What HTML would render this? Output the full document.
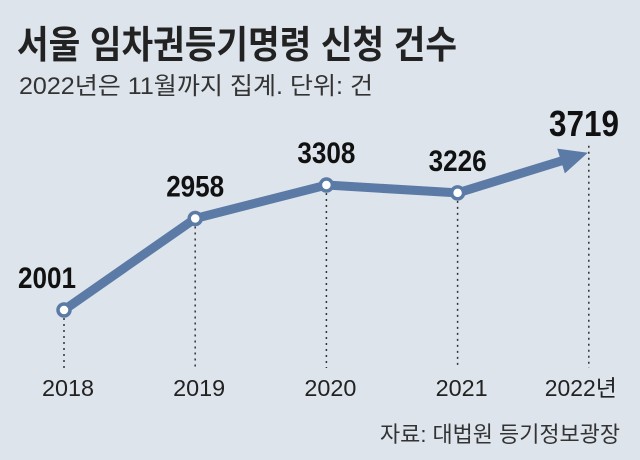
<!DOCTYPE html>
<html><head><meta charset="utf-8"><style>
html,body{margin:0;padding:0;background:#dde4ec;}
svg text{font-family:"Liberation Sans","Noto Sans CJK KR",sans-serif;}
</style></head><body>
<svg width="640" height="455" viewBox="0 0 640 455">
<rect width="640" height="455" fill="#dde4ec"/>
<text x="17" y="58" font-size="38" font-weight="bold" fill="#222" textLength="440" lengthAdjust="spacingAndGlyphs">서울 임차권등기명령 신청 건수</text>
<text x="19" y="94" font-size="24" fill="#333" textLength="354" lengthAdjust="spacingAndGlyphs">2022년은 11월까지 집계. 단위: 건</text>
<text x="620" y="442" font-size="22" fill="#333" text-anchor="end" textLength="240" lengthAdjust="spacingAndGlyphs">자료: 대법원 등기정보광장</text>
<g id="plot"></g>
</svg>
<script>
const years = ["2018","2019","2020","2021","2022년"];
const values = [2001, 2958, 3308, 3226, 3719];
const xPos = i => 64 + i * 131.2;
const yPos = v => 310 - (v - 2001) * 0.0956;
const ns = "http://www.w3.org/2000/svg";
const g = document.getElementById("plot");
function mk(tag, attrs){const e=document.createElementNS(ns,tag);for(const k in attrs)e.setAttribute(k,attrs[k]);g.appendChild(e);return e;}
values.forEach((v,i)=>{
  const l=mk("line",{x1:xPos(i),x2:xPos(i),y1:yPos(v)+(i==4?0:8),y2:368,stroke:"#333","stroke-width":1.5,"stroke-dasharray":"2,4"});
  
  
});
const last=values.length-1;
const tipX=xPos(last)-1, tipY=yPos(values[last])+7;
const px=xPos(last-1), py=yPos(values[last-1]);
const ang=Math.atan2(tipY-py,tipX-px);
const endX=tipX-22*Math.cos(ang), endY=tipY-22*Math.sin(ang);
let d="M"+values.slice(0,last).map((v,i)=>xPos(i)+","+yPos(v)).join(" L")+" L"+endX+","+endY;
const path=mk("path",{d:d,fill:"none",stroke:"#5b7ba6","stroke-width":9,"stroke-linejoin":"round"});


const ca=Math.cos(ang), sa=Math.sin(ang);
const bx=tipX-28*ca, by=tipY-28*sa;
const arrow=mk("polygon",{points:`${tipX},${tipY} ${bx-13*sa},${by+13*ca} ${bx+13*sa},${by-13*ca}`,fill:"#5b7ba6"});


values.slice(0,last).forEach((v,i)=>{
  const c=mk("circle",{cx:xPos(i),cy:yPos(v),r:6,fill:"#fff",stroke:"#5b7ba6","stroke-width":3.5});
  
  
});
values.forEach((v,i)=>{
  const big=i==last;
  const x=i==0?47:(big?584:xPos(i));
  const y=big?136:(i==0?yPos(v)-22:yPos(v)-22);
  const t=mk("text",{x:x,y:y,"font-size":big?36:30,"font-weight":"bold","text-anchor":"middle",fill:"#111",textLength:big?70:58,lengthAdjust:"spacingAndGlyphs"});
  t.textContent=v;
  
  
});
years.forEach((y,i)=>{
  const t=mk("text",{x:i==last?xPos(i)-8:xPos(i)+4,y:396,"font-size":23,"text-anchor":"middle",fill:"#222",textLength:i==last?72:52,lengthAdjust:"spacingAndGlyphs"});
  t.textContent=y;
  
  
});
</script>
</body></html>
